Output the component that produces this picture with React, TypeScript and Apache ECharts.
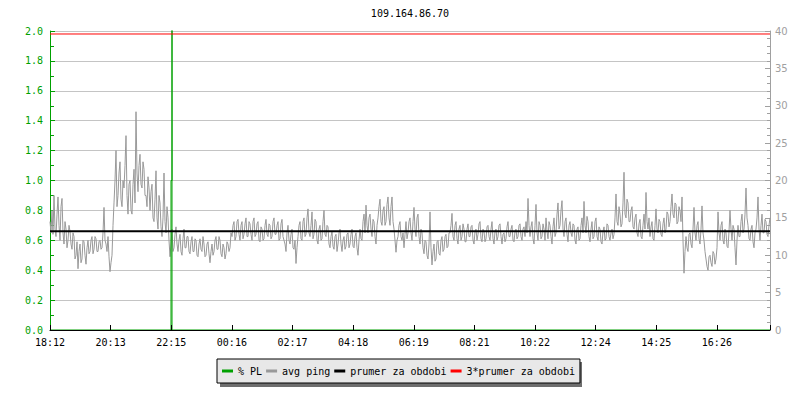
import React, { useEffect, useRef } from 'react';
import * as echarts from 'echarts';

const chartTitle = '109.164.86.70';
const timeLabels = ['18:12', '20:13', '22:15', '00:16', '02:17', '04:18', '06:19', '08:21', '10:22', '12:24', '14:25', '16:26'];
const tickStepMin = 121.25;
const spanMin = 1440;
const sampleStepMin = 2;

// avg ping in ms, one sample every 2 minutes, starting 18:12
const pingMs = [
  14.5, 13, 16, 12.8, 18, 13.5, 12.5, 15.5, 17.8, 14, 12, 16.5, 17.6, 13, 11.5, 14.5, 13.5, 11, 12, 14,
  13.2, 11.5, 10.8, 13, 12.5, 9.5, 10, 11.8, 8.2, 10.5, 11.5, 9, 9.5, 12, 11.8, 10, 8.8, 11, 12, 10.2,
  10.5, 12, 12.5, 10.2, 10.8, 12.5, 12.2, 10.5, 10.5, 11.8, 12, 10.8, 11, 13, 16.4, 12, 11.5, 10.5, 12.5, 9.8,
  7.8, 9, 10, 14, 17, 20, 24, 16.5, 18, 21, 22.5, 17.5, 16.5, 20, 19, 22, 26, 18, 15.5, 19.5,
  20, 16, 15.5, 19.5, 21.5, 17, 29.2, 21, 18.5, 22, 23.5, 19.5, 19, 22.5, 21.5, 18, 18, 16.5, 20.5, 19,
  16, 18.5, 19.5, 15, 14.5, 17.5, 21.3, 15, 13.5, 18, 17, 13.8, 12.5, 15, 21, 14.5, 13, 16.5, 15, 12,
  9.8, 11.5, 13.5, 10.5, 11, 12.8, 13.8, 11.5, 10.5, 12, 12.8, 10.5, 10, 12.2, 13.5, 11, 11, 12.5, 12.5, 10.5,
  10.2, 11.8, 12.5, 10.5, 10.5, 12.2, 12, 10, 9.8, 11.5, 12.2, 10.8, 10.5, 12.5, 11.5, 9.8, 10, 11.5, 11.8, 10.2,
  9, 10.5, 11.5, 10, 10.5, 12, 12.5, 10.8, 10.8, 12.5, 12, 10.2, 9.8, 11.5, 11, 9.5, 10.2, 11.8, 11.5, 10.5,
  11, 13, 12.5, 14, 14.5, 12, 12.5, 14.5, 14.8, 12.8, 12, 14, 14.5, 12.2, 12.8, 14.2, 15, 12.5, 12.5, 14.5,
  14.2, 12.8, 12, 14.5, 15, 12.5, 12.8, 14.2, 14.5, 12, 11.8, 13.8, 13.5, 12, 12.2, 14, 14.8, 12.8, 12.5, 14.2,
  14, 12.2, 12.5, 14.5, 15, 12.8, 12.8, 14, 14.5, 12, 12.2, 14.2, 14.8, 12.5, 12, 11.5, 10.5, 13, 14, 12,
  11.5, 12.8, 13.5, 11, 10.8, 12, 8.9, 11, 12.5, 14, 14.5, 12.2, 12, 14.5, 15, 12.5, 12.8, 15, 16.2, 13,
  12.5, 14, 15.8, 12.2, 12.8, 14.8, 14.5, 12, 11.5, 13.5, 14, 12, 12.2, 14.5, 16, 12.8, 12.5, 14, 13.8, 11.5,
  11, 12.5, 13.2, 11.2, 10.8, 12.5, 12.8, 10.5, 11.5, 13, 13.5, 11.5, 10.5, 12, 12.5, 10.8, 11.2, 12.8, 13, 11,
  11.5, 12.8, 13.5, 11.2, 11, 12.5, 13, 11, 10, 12, 13.5, 12.2, 12, 14.5, 15.5, 13, 16.7, 14, 13, 15,
  15.5, 13.5, 12.5, 14.8, 14.5, 12.5, 11.5, 14, 15, 16.5, 17.5, 14.5, 14, 16, 16.5, 14, 14.5, 16.8, 17.8, 15,
  14, 16.5, 17.8, 14.5, 13.5, 12, 10.4, 12, 12.5, 14, 14.5, 12.5, 12, 13, 11, 12.8, 14.5, 12.2, 13, 14.5,
  15, 13, 12, 14.5, 16.4, 13.5, 12.5, 15, 15.5, 12.5, 11.5, 13.5, 13, 11, 10.2, 12, 11.8, 10, 9.5, 11.5,
  15.8, 11, 8.7, 10.5, 11.5, 9.2, 9.5, 11.8, 12, 10.2, 10, 12, 12.5, 10.5, 10.8, 12.5, 12.8, 11, 11.2, 13,
  13, 14, 15.6, 12.5, 12, 14, 14.5, 12.2, 11.5, 13.5, 14, 12, 12.5, 14.2, 13.5, 11.8, 11.8, 13.5, 14.2, 12.5,
  12.5, 13.8, 14, 12, 11.5, 13.2, 13.5, 12, 12.8, 14.2, 14.5, 12.2, 11.8, 13.5, 13.2, 11.8, 12.2, 13.8, 14, 12.5,
  12, 13.5, 14.5, 12.2, 11.5, 13.2, 13.5, 12, 12.5, 14, 14.2, 12.5, 11.5, 12.8, 13, 11.8, 12.2, 13.8, 14.5, 12.5,
  12.5, 13.5, 14, 12, 11.8, 13.2, 13.5, 12.2, 12.5, 14, 14.2, 12.5, 12, 13.5, 13.8, 12.5, 14.5, 13, 17.6, 14,
  12.5, 13.8, 14.5, 12.2, 11.5, 14, 16.8, 13, 12, 14.5, 14, 12.2, 12.5, 14.2, 13.5, 12, 15, 13.2, 12.2, 14.5,
  14, 12.5, 11.5, 13.8, 15, 12.5, 13, 15.5, 17, 13.5, 14, 16, 17.3, 13.5, 12.5, 14.5, 15, 12.8, 11.8, 14,
  14.5, 13, 12.5, 14.2, 14, 12, 11.5, 13.5, 13.8, 12, 12.2, 14, 15, 13, 17.2, 14, 13, 15.2, 14.5, 12.5,
  11.8, 13.5, 14.5, 12.2, 12.5, 14.5, 15, 12.5, 12, 13.8, 13.5, 11.8, 11.5, 13.2, 13.8, 12, 12.2, 14.2, 14, 12.5,
  12, 13, 13.5, 12.2, 12.8, 15, 18.2, 14.5, 14, 16.5, 15.5, 13.8, 14.2, 17, 21.1, 15.5, 15, 17.5, 17, 14.5,
  14.5, 16, 16.5, 13.8, 13.5, 15, 15.5, 13, 12.5, 14.2, 14.8, 12.5, 12.2, 14, 15.5, 13.5, 18.4, 14.5, 13.5, 15,
  12.5, 13.8, 14.5, 12.2, 12, 14, 16.2, 13.5, 13, 14.8, 14.5, 12.8, 12.5, 14.2, 15, 13, 13.5, 15.8, 15.5, 13.8,
  14.5, 16.5, 18.2, 15.5, 15, 17, 16.8, 14.2, 14.5, 16.5, 16, 14.5, 17.8, 12, 7.6, 10.5, 12.5, 11, 10.5, 12.8,
  13, 11.5, 11, 13.5, 16.4, 13, 12, 14, 14.5, 12.2, 11.5, 13.5, 16.6, 13, 12, 10.5, 9.5, 8.5, 8, 9.8,
  10, 9, 8.5, 10.5, 10.2, 8.8, 9.5, 11, 15.8, 13, 12, 14, 14.5, 12, 11.5, 13.5, 13, 11.2, 11, 13.2,
  16, 13.5, 12, 14, 13.5, 11, 8.7, 12, 14, 12.5, 12.5, 14.5, 15.5, 13, 13.5, 15.5, 19, 15, 14, 12.2,
  12, 13.5, 14, 11.8, 11, 13, 13.5, 15, 17.8, 13.5, 12, 14, 15.5, 13, 13, 14.8, 14.5, 12.8, 12.5, 14,
  15,
];

// packet loss (%), minutes from start
const plTimes = [0, 242, 242, 244, 244, 244, 1440];
const plValues = [0, 0, 1.0, 1.0, 2.6, 0, 0];

const avgPing = 13.2;
const tripleAvgPing = 39.6;

const MONO = '"DejaVu Sans Mono", "Liberation Mono", monospace';
const GREEN = '#00a000';
const GRAY = '#999999';

export default function App() {
  const ref = useRef<HTMLDivElement>(null);

  useEffect(() => {
    document.body.style.margin = '0';
    if (!ref.current) return;
    const chart = echarts.init(ref.current, undefined, { renderer: 'svg' });
    const option = {
      animation: false,
      backgroundColor: '#ffffff',
      grid: { left: 50, right: 30, top: 31, bottom: 70, containLabel: false },
      graphic: [
        {
          type: 'text',
          x: 410,
          y: 13,
          style: {
            text: chartTitle,
            fill: '#000',
            fontFamily: MONO,
            fontSize: 10,
            align: 'center',
            verticalAlign: 'middle',
          },
        },
        {
          type: 'rect',
          z: 0,
          silent: true,
          shape: { x: 220, y: 362, width: 362, height: 25 },
          style: { fill: '#6e6e6e' },
        },
      ],
      legend: {
        left: 217,
        top: 359,
        orient: 'horizontal',
        icon: 'rect',
        itemWidth: 11,
        itemHeight: 3,
        itemGap: 4,
        padding: [6, 5, 6, 5],
        backgroundColor: '#e8e8e8',
        borderColor: '#000',
        borderWidth: 1,
        selectedMode: false,
        itemStyle: { borderWidth: 0 },
        textStyle: { fontFamily: MONO, fontSize: 10, color: '#000', lineHeight: 12 },
        data: ['% PL', 'avg ping', 'prumer za obdobi', '3*prumer za obdobi'],
        z: 10,
      },
      xAxis: {
        type: 'value',
        min: 0,
        max: spanMin,
        interval: tickStepMin,
        z: 10,
        axisLine: { show: true, lineStyle: { color: '#000', width: 1 } },
        axisTick: { show: true, inside: true, length: 5, lineStyle: { color: '#000' } },
        splitLine: { show: false },
        axisLabel: {
          color: '#000',
          fontFamily: MONO,
          fontSize: 10,
          margin: 7,
          formatter: (v: number) => {
            if (v >= spanMin) return '';
            const k = Math.round(v / tickStepMin);
            return timeLabels[k] ?? '';
          },
        },
      },
      yAxis: [
        {
          type: 'value',
          position: 'left',
          min: 0,
          max: 2,
          interval: 0.2,
          axisLine: { show: true, lineStyle: { color: GREEN, width: 1 } },
          axisTick: { show: true, inside: true, length: 5, lineStyle: { color: GREEN } },
          minorTick: { show: true, splitNumber: 2, length: 4, lineStyle: { color: GREEN } },
          axisLabel: {
            color: GREEN,
            fontFamily: MONO,
            fontSize: 10,
            margin: 7,
            formatter: (v: number) => v.toFixed(1),
          },
          splitLine: { show: true, lineStyle: { color: '#c4c4c4', width: 1 } },
        },
        {
          type: 'value',
          position: 'right',
          min: 0,
          max: 40,
          interval: 5,
          axisLine: { show: true, lineStyle: { color: '#a0a0a0', width: 1 } },
          axisTick: { show: true, inside: true, length: 5, lineStyle: { color: '#a0a0a0' } },
          minorTick: { show: true, splitNumber: 5, length: 3, lineStyle: { color: '#a0a0a0' } },
          axisLabel: {
            color: '#a0a0a0',
            fontFamily: '"DejaVu Sans", sans-serif',
            fontSize: 10,
            margin: 5,
          },
          splitLine: { show: false },
        },
      ],
      series: [
        {
          name: '% PL',
          type: 'line',
          yAxisIndex: 0,
          color: GREEN,
          showSymbol: false,
          lineStyle: { width: 1, color: GREEN },
          data: plTimes.map((t, i) => [t, plValues[i]]),
          z: 4,
        },
        {
          name: 'avg ping',
          type: 'line',
          yAxisIndex: 1,
          color: GRAY,
          showSymbol: false,
          lineStyle: { width: 1, color: GRAY },
          data: pingMs.map((v, i) => [i * sampleStepMin, v]),
          z: 3,
        },
        {
          name: 'prumer za obdobi',
          type: 'line',
          yAxisIndex: 1,
          color: '#000',
          showSymbol: false,
          lineStyle: { width: 2, color: '#000' },
          data: [[0, avgPing], [spanMin, avgPing]],
          z: 5,
        },
        {
          name: '3*prumer za obdobi',
          type: 'line',
          yAxisIndex: 1,
          color: '#ff0000',
          showSymbol: false,
          lineStyle: { width: 1, color: '#ff0000' },
          data: [[0, tripleAvgPing], [spanMin, tripleAvgPing]],
          z: 5,
        },
      ],
    };
    chart.setOption(option as any);
    return () => chart.dispose();
  }, []);

  return (
    <div
      ref={ref}
      style={{ position: 'absolute', left: 0, top: 0, width: 800, height: 400 }}
    />
  );
}
